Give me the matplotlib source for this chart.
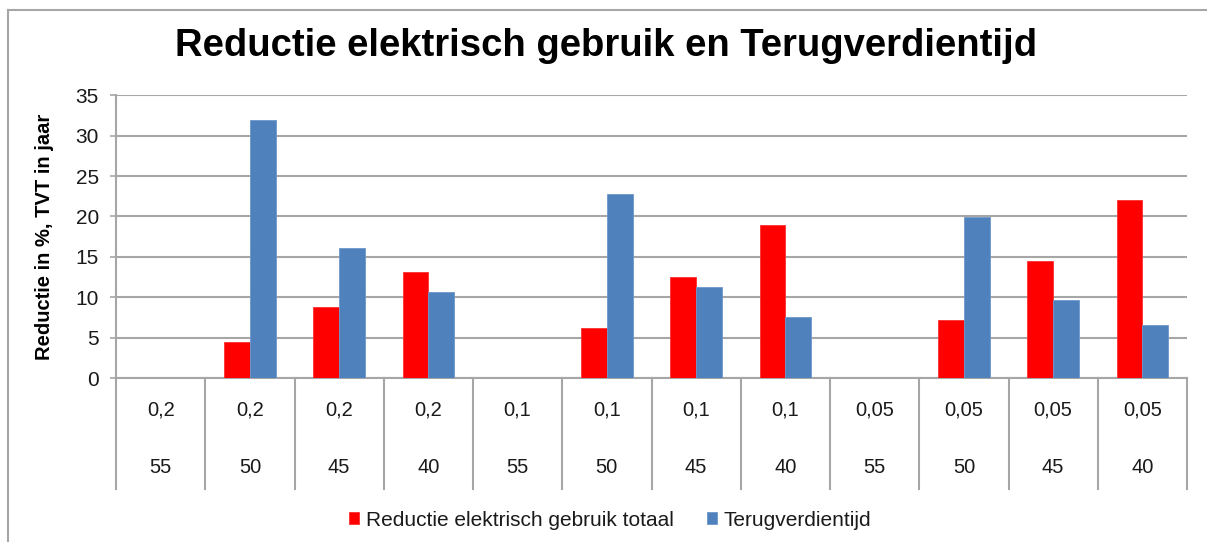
import matplotlib
matplotlib.use("Agg")
import matplotlib.pyplot as plt
import numpy as np

plt.rcParams['font.family'] = ['Liberation Sans', 'DejaVu Sans']

# Data
outer_labels = ["0,2", "0,2", "0,2", "0,2", "0,1", "0,1", "0,1", "0,1",
                "0,05", "0,05", "0,05", "0,05"]
inner_labels = ["55", "50", "45", "40", "55", "50", "45", "40",
                "55", "50", "45", "40"]
reductie = [0, 4.4, 8.8, 13.1, 0, 6.2, 12.5, 19.0, 0, 7.2, 14.5, 22.0]
terugverdientijd = [0, 32.0, 16.1, 10.7, 0, 22.8, 11.3, 7.6, 0, 19.9, 9.7, 6.6]
series_names = ["Reductie elektrisch gebruik totaal", "Terugverdientijd"]
title = "Reductie elektrisch gebruik en Terugverdientijd"
ylabel = "Reductie in %, TVT in jaar"
yticks = [0, 5, 10, 15, 20, 25, 30, 35]

RED = "#FF0000"
BLUE = "#4F81BD"
GRID = "#A6A6A6"
TXT = "#1a1a1a"

fig = plt.figure(figsize=(12.07, 5.42), dpi=100)
ax = fig.add_axes([116/1207, 1-378/542, (1187-116)/1207, (378-95.3)/542])

n = len(reductie)
x = np.arange(n)
w = 0.288
ax.bar(x - w/2, reductie, w, color=RED, label=series_names[0], zorder=3,
       edgecolor="#FF3030", linewidth=0.6)
ax.bar(x + w/2, terugverdientijd, w, color=BLUE, label=series_names[1], zorder=3,
       edgecolor="#6E97CB", linewidth=0.6)

ax.set_xlim(-0.5, n - 0.5)
ax.set_ylim(0, 35)
ax.set_yticks(yticks)
ax.set_yticklabels([str(t) for t in yticks], fontsize=15, color=TXT)
ax.yaxis.grid(True, color=GRID, linewidth=1.5, zorder=0)
ax.set_axisbelow(True)
ax.tick_params(axis='y', length=4.3, width=1.2, color=GRID, pad=8)
ax.set_xticks([])
for s in ["top", "right"]:
    ax.spines[s].set_visible(False)
ax.spines["left"].set_color(GRID)
ax.spines["left"].set_linewidth(1.5)
ax.spines["bottom"].set_color(GRID)
ax.spines["bottom"].set_linewidth(1.5)

ax.set_ylabel(ylabel, fontsize=14.5, fontweight="bold", color="#000000")
ax.yaxis.set_label_coords(-0.058, 0.5)

# multi-level category axis
trans = ax.get_xaxis_transform()
for b in np.arange(-0.5, n, 1.0):
    ax.plot([b, b], [0, -0.393], transform=trans, color=GRID, linewidth=1.5,
            clip_on=False, zorder=1)
for i in range(n):
    ax.text(x[i], -0.113, outer_labels[i], transform=trans, ha="center",
            va="center", fontsize=14.5, color=TXT)
    ax.text(x[i], -0.315, inner_labels[i], transform=trans, ha="center",
            va="center", fontsize=14.5, color=TXT)

fig.text(606/1207, 1-46/542, title, ha="center", va="center",
         fontsize=27.5, fontweight="bold", color="#000000")

leg = fig.legend(loc="center", bbox_to_anchor=(610/1207, 1-520/542), ncol=2,
                 frameon=False, fontsize=15, handlelength=0.5, handleheight=0.5,
                 handletextpad=0.3, columnspacing=1.6)
for t in leg.get_texts():
    t.set_color(TXT)

# partial outer frame (left and top)
fig.add_artist(plt.Line2D([8/1207, 8/1207], [0, 1-9.5/542], transform=fig.transFigure,
                          color="#A6A6A6", linewidth=1.5))
fig.add_artist(plt.Line2D([8/1207, 1], [1-9.5/542, 1-9.5/542], transform=fig.transFigure,
                          color="#A6A6A6", linewidth=1.5))

fig.savefig("out.png", dpi=100)
